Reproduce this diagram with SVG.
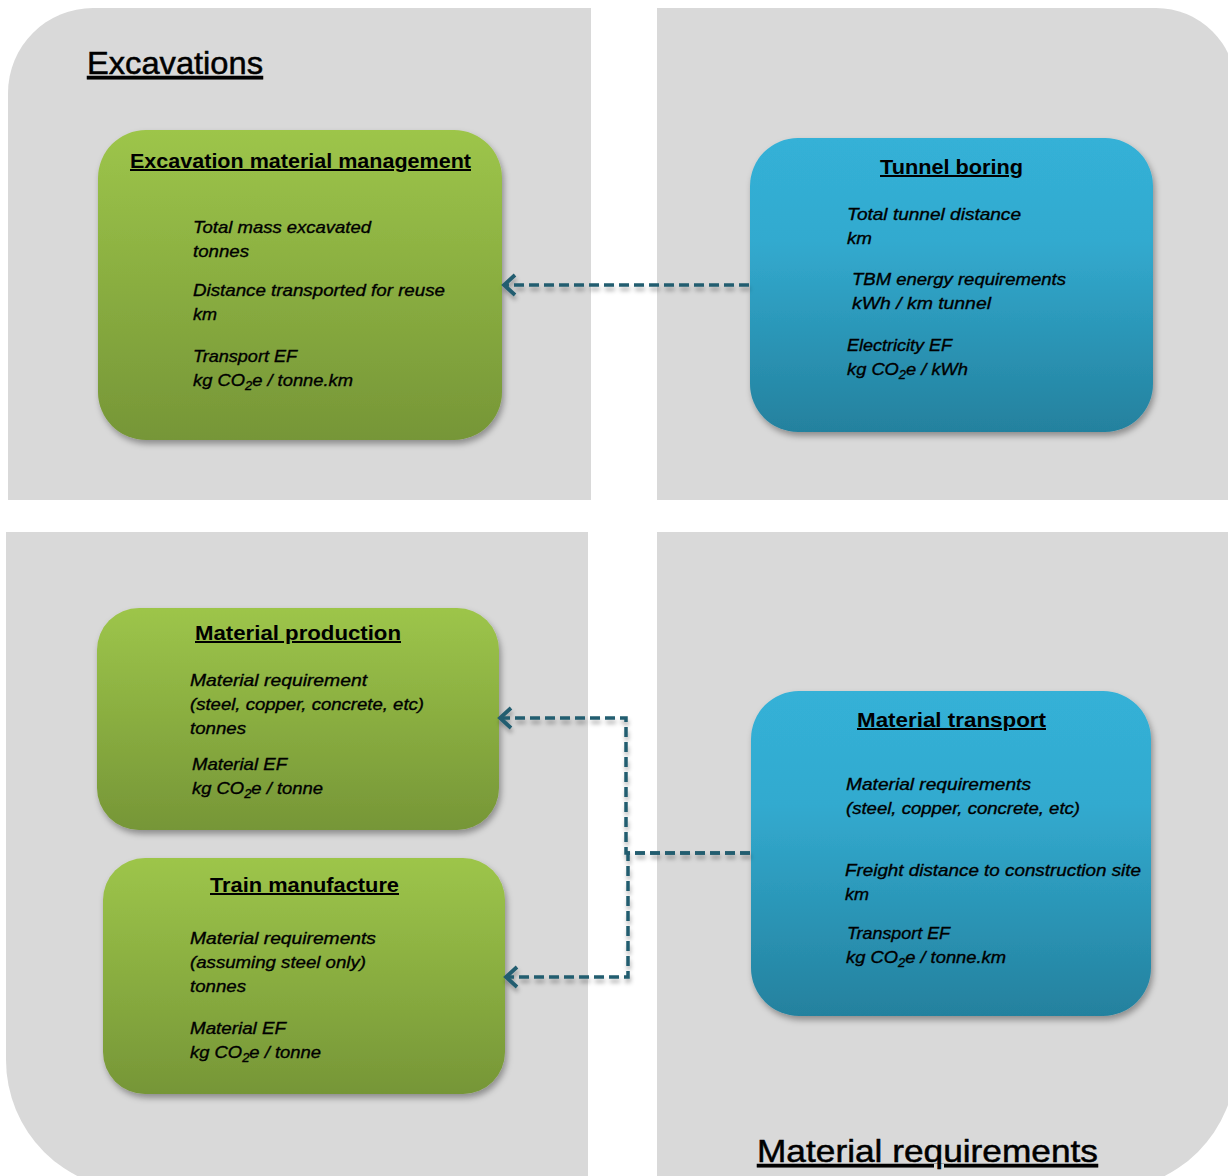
<svg xmlns="http://www.w3.org/2000/svg" width="1228" height="1176" viewBox="0 0 1228 1176">
<defs>
  <linearGradient id="gGreen" x1="0" y1="0" x2="0" y2="1">
    <stop offset="0" stop-color="#9dc54a"/>
    <stop offset="1" stop-color="#769637"/>
  </linearGradient>
  <linearGradient id="gBlue" x1="0" y1="0" x2="0" y2="1">
    <stop offset="0" stop-color="#34b1d7"/>
    <stop offset="0.35" stop-color="#32aacf"/>
    <stop offset="1" stop-color="#24819e"/>
  </linearGradient>
  <filter id="shadow" x="-10%" y="-10%" width="125%" height="125%">
    <feDropShadow dx="2" dy="4" stdDeviation="3" flood-color="#000" flood-opacity="0.35"/>
  </filter>
  <filter id="lshadow" x="-5%" y="-50%" width="110%" height="300%">
    <feDropShadow dx="1" dy="4" stdDeviation="2" flood-color="#000" flood-opacity="0.3"/>
  </filter>
  <marker id="arr" markerWidth="18" markerHeight="28" refX="14" refY="14" orient="auto" markerUnits="userSpaceOnUse">
    <path d="M3,4 L14,14 L3,24" fill="none" stroke="#235d6f" stroke-width="3.8" stroke-linejoin="miter"/>
  </marker>
</defs>
<style>
  .panel { fill: #d9d9d9; }
  .big { font-family: "Liberation Sans", Arial, sans-serif; font-size: 32px; fill: #000; stroke: #000; stroke-width: 0.5; text-decoration: underline; }
  .title { font-family: "Liberation Sans", Arial, sans-serif; font-size: 20px; font-weight: bold; fill: #000; text-decoration: underline; }
  .body { font-family: "Liberation Sans", Arial, sans-serif; font-size: 17px; font-style: italic; fill: #000; stroke: #000; stroke-width: 0.35; }
  .sub { font-size: 12px; }
  .conn { fill: none; stroke: #235d6f; stroke-width: 3.5; stroke-dasharray: 10 5; }
</style>

<g id="panels">
  <path class="panel" d="M8,93 A85,85 0 0 1 93,8 H591 V500 H8 Z"/>
  <path class="panel" d="M657,8 H1156 A80,80 0 0 1 1236,88 V500 H657 Z"/>
  <path class="panel" d="M6,532 H588 V1190 H136 A130,130 0 0 1 6,1060 Z"/>
  <path class="panel" d="M657,532 H1236 V1060 A130,130 0 0 1 1106,1190 H657 Z"/>
</g>

<g id="headings">
  <text class="big" x="87" y="74" textLength="176" lengthAdjust="spacingAndGlyphs">Excavations</text>
  <text class="big" x="757" y="1162" textLength="341" lengthAdjust="spacingAndGlyphs">Material requirements</text>
</g>

<g id="excavation-material-management">
  <rect x="98" y="130" width="404" height="310" rx="48" fill="url(#gGreen)" filter="url(#shadow)"/>
  <text class="title" x="130" y="168" textLength="341" lengthAdjust="spacingAndGlyphs">Excavation material management</text>
  <text class="body" x="193" y="233" textLength="178" lengthAdjust="spacingAndGlyphs">Total mass excavated</text>
  <text class="body" x="193" y="257" textLength="56" lengthAdjust="spacingAndGlyphs">tonnes</text>
  <text class="body" x="193" y="296" textLength="252" lengthAdjust="spacingAndGlyphs">Distance transported for reuse</text>
  <text class="body" x="193" y="320" textLength="24" lengthAdjust="spacingAndGlyphs">km</text>
  <text class="body" x="193" y="362" textLength="104" lengthAdjust="spacingAndGlyphs">Transport EF</text>
  <text class="body" x="193" y="386" textLength="160" lengthAdjust="spacingAndGlyphs">kg CO<tspan class="sub" dy="4">2</tspan><tspan dy="-4">e / tonne.km</tspan></text>
</g>

<g id="tunnel-boring">
  <rect x="750" y="138" width="403" height="294" rx="48" fill="url(#gBlue)" filter="url(#shadow)"/>
  <text class="title" x="880" y="174" textLength="143" lengthAdjust="spacingAndGlyphs">Tunnel boring</text>
  <text class="body" x="847" y="220" textLength="174" lengthAdjust="spacingAndGlyphs">Total tunnel distance</text>
  <text class="body" x="847" y="244" textLength="25" lengthAdjust="spacingAndGlyphs">km</text>
  <text class="body" x="852" y="285" textLength="214" lengthAdjust="spacingAndGlyphs">TBM energy requirements</text>
  <text class="body" x="852" y="309" textLength="139" lengthAdjust="spacingAndGlyphs">kWh / km tunnel</text>
  <text class="body" x="847" y="351" textLength="105" lengthAdjust="spacingAndGlyphs">Electricity EF</text>
  <text class="body" x="847" y="375" textLength="121" lengthAdjust="spacingAndGlyphs">kg CO<tspan class="sub" dy="4">2</tspan><tspan dy="-4">e / kWh</tspan></text>
</g>

<g id="material-production">
  <rect x="97" y="608" width="402" height="222" rx="42" fill="url(#gGreen)" filter="url(#shadow)"/>
  <text class="title" x="195" y="640" textLength="206" lengthAdjust="spacingAndGlyphs">Material production</text>
  <text class="body" x="190" y="686" textLength="177" lengthAdjust="spacingAndGlyphs">Material requirement</text>
  <text class="body" x="190" y="710" textLength="234" lengthAdjust="spacingAndGlyphs">(steel, copper, concrete, etc)</text>
  <text class="body" x="190" y="734" textLength="56" lengthAdjust="spacingAndGlyphs">tonnes</text>
  <text class="body" x="192" y="770" textLength="95" lengthAdjust="spacingAndGlyphs">Material EF</text>
  <text class="body" x="192" y="794" textLength="131" lengthAdjust="spacingAndGlyphs">kg CO<tspan class="sub" dy="4">2</tspan><tspan dy="-4">e / tonne</tspan></text>
</g>

<g id="train-manufacture">
  <rect x="103" y="858" width="402" height="236" rx="42" fill="url(#gGreen)" filter="url(#shadow)"/>
  <text class="title" x="210" y="892" textLength="189" lengthAdjust="spacingAndGlyphs">Train manufacture</text>
  <text class="body" x="190" y="944" textLength="186" lengthAdjust="spacingAndGlyphs">Material requirements</text>
  <text class="body" x="190" y="968" textLength="176" lengthAdjust="spacingAndGlyphs">(assuming steel only)</text>
  <text class="body" x="190" y="992" textLength="56" lengthAdjust="spacingAndGlyphs">tonnes</text>
  <text class="body" x="190" y="1034" textLength="96" lengthAdjust="spacingAndGlyphs">Material EF</text>
  <text class="body" x="190" y="1058" textLength="131" lengthAdjust="spacingAndGlyphs">kg CO<tspan class="sub" dy="4">2</tspan><tspan dy="-4">e / tonne</tspan></text>
</g>

<g id="material-transport">
  <rect x="751" y="691" width="400" height="325" rx="48" fill="url(#gBlue)" filter="url(#shadow)"/>
  <text class="title" x="857" y="727" textLength="189" lengthAdjust="spacingAndGlyphs">Material transport</text>
  <text class="body" x="846" y="790" textLength="185" lengthAdjust="spacingAndGlyphs">Material requirements</text>
  <text class="body" x="846" y="814" textLength="234" lengthAdjust="spacingAndGlyphs">(steel, copper, concrete, etc)</text>
  <text class="body" x="845" y="876" textLength="296" lengthAdjust="spacingAndGlyphs">Freight distance to construction site</text>
  <text class="body" x="845" y="900" textLength="24" lengthAdjust="spacingAndGlyphs">km</text>
  <text class="body" x="847" y="939" textLength="103" lengthAdjust="spacingAndGlyphs">Transport EF</text>
  <text class="body" x="846" y="963" textLength="160" lengthAdjust="spacingAndGlyphs">kg CO<tspan class="sub" dy="4">2</tspan><tspan dy="-4">e / tonne.km</tspan></text>
</g>

<g id="connectors">
  <g filter="url(#lshadow)">
    <path class="conn" d="M749,285 H504" marker-end="url(#arr)"/>
    <path class="conn" d="M750,853 H626 V718 H500" marker-end="url(#arr)"/>
    <path class="conn" d="M750,853 H628 V977 H506" marker-end="url(#arr)"/>
  </g>
</g>
</svg>
